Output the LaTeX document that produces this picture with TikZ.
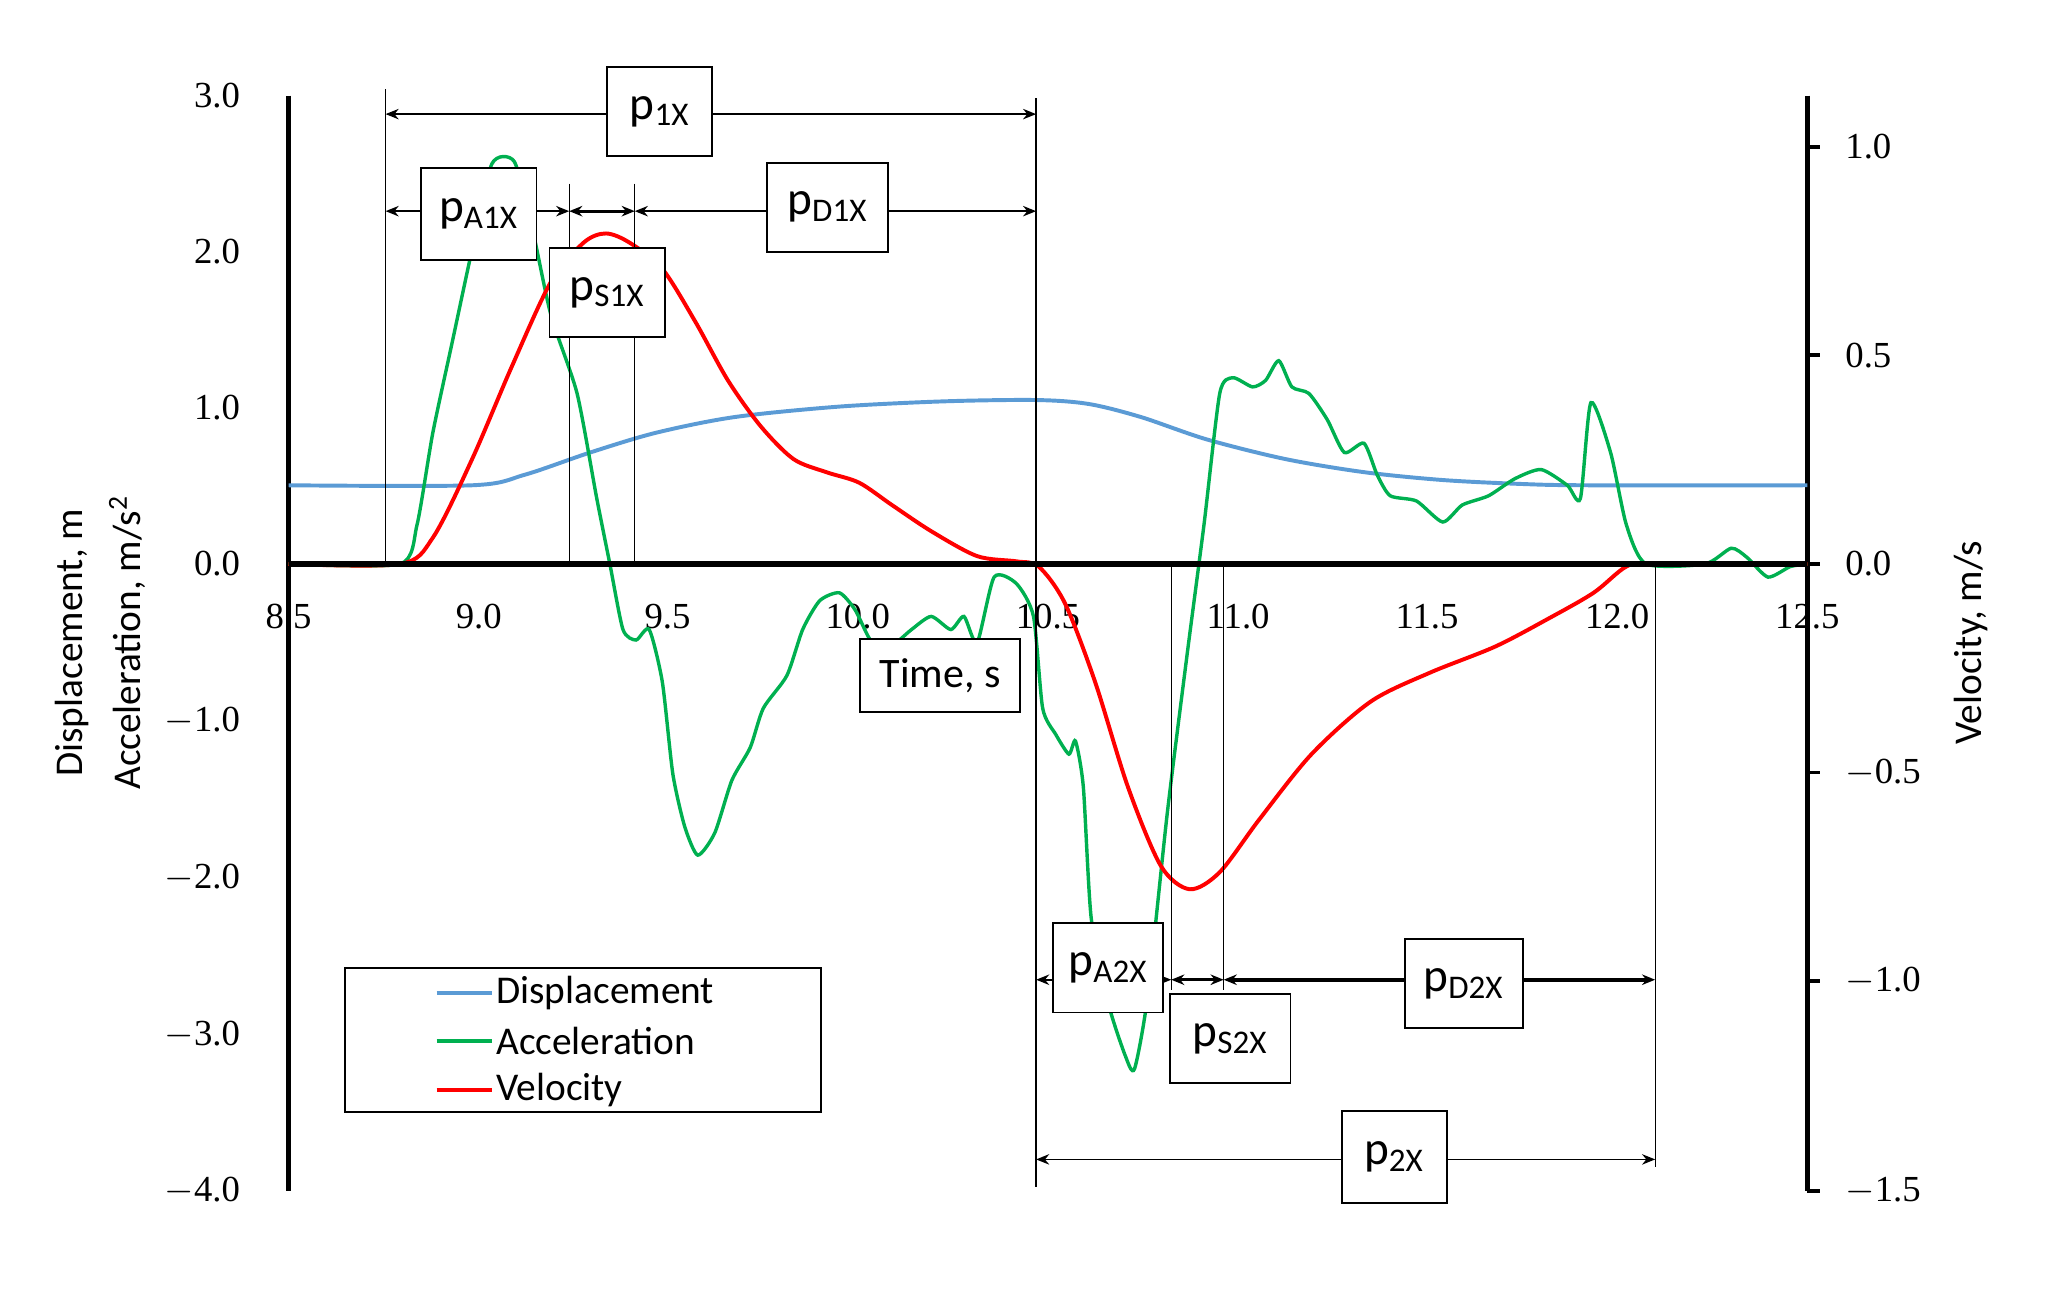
\documentclass[tikz,border=0pt]{standalone}
\usepackage{fontspec}
\setmainfont{Liberation Serif}
\newfontfamily\carl{Carlito}
\usetikzlibrary{arrows.meta}
\begin{document}
\begin{tikzpicture}[x=0.5pt,y=-0.5pt,
  lab/.style={draw,fill=white,inner sep=0pt,font=\carl\fontsize{18}{20}\selectfont,line width=0.7pt},
  dim/.style={<->,>={Stealth[length=5pt,width=4pt]},line width=0.6pt},
  vl/.style={line width=0.5pt},
  tk/.style={font=\fontsize{14}{16}\selectfont},
  axl/.style={font=\carl\fontsize{15}{17}\selectfont}]
\useasboundingbox (0,0) rectangle (1560,986);
% axes
\draw[line width=2pt] (220,73) -- (220,908);
\draw[line width=2pt] (1378,73) -- (1378,908);
\foreach \y in {112,271,430,589,748,908} \draw[line width=1.5pt] (1378,\y) -- (1388,\y);
\foreach \v/\y in {3.0/73,2.0/192,1.0/311,0.0/430,$-$1.0/550,$-$2.0/669,$-$3.0/789,$-$4.0/908}
  \node[tk,anchor=east] at (190,\y) {\v};
\foreach \v/\y in {1.0/112,0.5/271,0.0/430,$-$0.5/589,$-$1.0/748,$-$1.5/908}
  \node[tk,anchor=west] at (1400,\y) {\v};
\foreach \v/\x in {8.5/220,9.0/365,9.5/509,10.0/654,10.5/799,11.0/944,11.5/1088,12.0/1233,12.5/1378}
  \node[tk] at (\x,470) {\v};
\node[axl,rotate=90] (ld) at (55,490) {Displacement, m};
\node[axl,rotate=90] (la) at (97,490) {Acceleration, m/s\textsuperscript{2}};
\node[axl,rotate=90] (lv) at (1503,490) {Velocity, m/s};
% curves
\draw[color={rgb,255:red,91;green,155;blue,213},line width=1.5pt] plot[smooth] coordinates {(220,370)(360,370)(400,362)(450,345)(500,330)(560,318)(640,310)(720,306)(790,305)(830,308)(870,318)(920,335)(980,350)(1040,360)(1100,366)(1160,369)(1210,370)(1378,370)};
\draw[color={rgb,255:red,0;green,176;blue,80},line width=1.3pt] plot[smooth,tension=0.4] coordinates {(220,430)(305,430)(318,400)(330,330)(345,260)(360,190)(375,125)(392,123)(405,170)(420,240)(440,300)(455,380)(465,430)(475,480)(485,488)(495,480)(505,520)(513,590)(522,630)(532,652)(545,635)(558,595)(572,570)(582,540)(600,515)(612,480)(625,458)(640,452)(652,465)(665,490)(680,492)(695,480)(710,470)(725,480)(735,470)(745,490)(758,440)(775,445)(788,470)(795,540)(805,560)(815,575)(820,565)(826,600)(832,700)(845,765)(858,805)(865,815)(875,760)(890,620)(905,500)(918,400)(930,300)(940,288)(955,295)(965,290)(975,275)(985,295)(998,300)(1012,320)(1025,345)(1040,338)(1050,362)(1060,378)(1080,382)(1100,398)(1115,385)(1135,378)(1155,365)(1175,358)(1195,370)(1205,380)(1213,307)(1228,345)(1240,400)(1255,430)(1300,430)(1320,418)(1332,425)(1348,440)(1365,432)(1378,430)};
\draw[color={rgb,255:red,255;green,0;blue,0},line width=1.5pt] plot[smooth,tension=0.5] coordinates {(220,430)(305,430)(330,410)(360,350)(390,280)(420,215)(445,185)(462,178)(480,185)(505,205)(530,245)(555,290)(580,325)(605,350)(630,360)(655,368)(680,385)(710,405)(745,424)(775,428)(792,432)(812,460)(835,520)(860,600)(885,660)(907,678)(930,665)(960,625)(1000,575)(1045,535)(1090,513)(1140,493)(1180,472)(1215,452)(1240,432)(1260,430)(1378,430)};
\draw[line width=2pt] (220,430) -- (1378,430);
% verticals
\draw[vl] (294,68) -- (294,430);
\draw[vl] (434,140) -- (434,430);
\draw[vl] (484,140) -- (484,430);
\draw[vl] (790,75) -- (790,905);
\draw[vl] (893,430) -- (893,755);
\draw[vl] (933,430) -- (933,755);
\draw[vl] (1262,430) -- (1262,890);
% dimensions
\coordinate (a1) at (294,87); \coordinate (a2) at (790,87);
\draw[dim] (a1) -- (a2);
\coordinate (b1) at (294,161); \coordinate (b2) at (434,161); \coordinate (b3) at (484,161); \coordinate (b4) at (790,161);
\draw[dim] (b1) -- (b2); \draw[dim,line width=1.2pt] (b2) -- (b3); \draw[dim] (b3) -- (b4);
\coordinate (c1) at (790,747); \coordinate (c2) at (893,747); \coordinate (c3) at (933,747); \coordinate (c4) at (1262,747);
\draw[dim] (c1) -- (c2); \draw[dim,line width=1.2pt] (c2) -- (c3); \draw[dim,line width=1.5pt] (c3) -- (c4);
\coordinate (d1) at (790,884); \coordinate (d2) at (1262,884);
\draw[dim] (d1) -- (d2);
% labels
\node[lab,minimum width=40pt,minimum height=34pt] (p1) at (503,85) {p\textsubscript{1X}};
\node[lab,minimum width=44pt,minimum height=35pt] (pa1) at (365,163) {p\textsubscript{A1X}};
\node[lab,minimum width=44pt,minimum height=34pt] (ps1) at (463,223) {p\textsubscript{S1X}};
\node[lab,minimum width=46pt,minimum height=34pt] (pd1) at (631,158) {p\textsubscript{D1X}};
\node[lab,minimum width=42pt,minimum height=34pt] (pa2) at (845,738) {p\textsubscript{A2X}};
\node[lab,minimum width=46pt,minimum height=34pt] (ps2) at (938,792) {p\textsubscript{S2X}};
\node[lab,minimum width=45pt,minimum height=34pt] (pd2) at (1116,750) {p\textsubscript{D2X}};
\node[lab,minimum width=40pt,minimum height=35pt] (p2) at (1063,882) {p\textsubscript{2X}};
\node[lab,minimum width=61pt,minimum height=28pt,font=\carl\fontsize{16}{18}\selectfont] (tm) at (717,515) {Time, s};
% legend
\draw[line width=0.7pt] (263,738) rectangle (626,848);
\draw[color={rgb,255:red,91;green,155;blue,213},line width=1.5pt] (333,757) -- (375,757);
\draw[color={rgb,255:red,0;green,176;blue,80},line width=1.5pt] (333,794) -- (375,794);
\draw[color={rgb,255:red,255;green,0;blue,0},line width=1.5pt] (333,831) -- (375,831);
\node[axl,anchor=west,inner sep=1pt] (l1) at (376,757) {Displacement};
\node[axl,anchor=west,inner sep=1pt] (l2) at (376,794) {Acceleration};
\node[axl,anchor=west,inner sep=1pt] (l3) at (376,831) {Velocity};
\end{tikzpicture}
\end{document}
